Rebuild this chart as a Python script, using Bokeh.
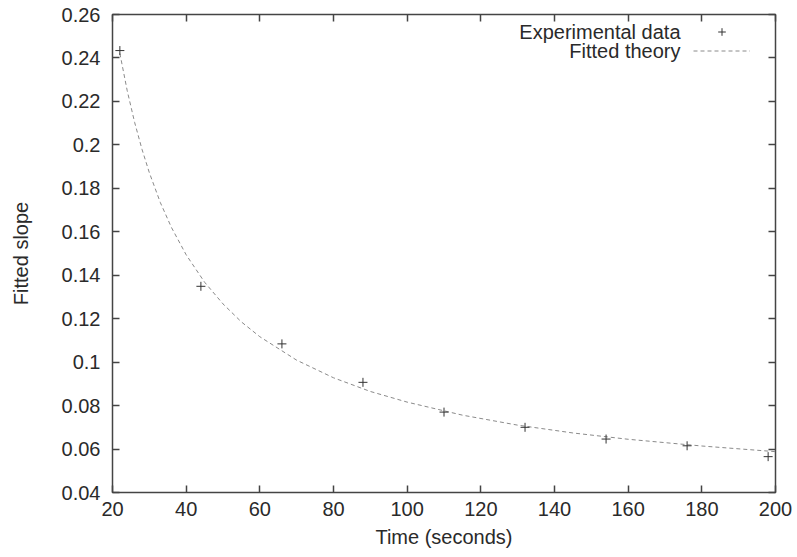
from bokeh.plotting import figure
from bokeh.models import (Range1d, FixedTicker, LinearAxis, Label, Legend, LegendItem,
                          CustomJSTickFormatter, ColumnDataSource)
from bokeh.embed import file_html
from bokeh.resources import INLINE

# Experimental data (time in seconds, fitted slope)
exp_time = [22, 44, 66, 88, 110, 132, 154, 176, 198]
exp_slope = [0.2434, 0.1349, 0.1084, 0.0907, 0.0770, 0.0700, 0.0646, 0.0615, 0.0565]

# Fitted theory curve
fit_time = [22, 24, 26, 28, 30, 33, 36, 40, 45, 50, 55, 60, 70, 80, 90, 100,
            115, 130, 145, 160, 180, 200]
fit_slope = [0.2421, 0.2249, 0.2104, 0.1980, 0.1872, 0.1734, 0.1620, 0.1494,
             0.1368, 0.1268, 0.1185, 0.1117, 0.1009, 0.0928, 0.0865, 0.0816,
             0.0756, 0.0710, 0.0674, 0.0645, 0.0614, 0.0588]

x_ticks = [20, 40, 60, 80, 100, 120, 140, 160, 180, 200]
y_ticks = [0.04, 0.06, 0.08, 0.10, 0.12, 0.14, 0.16, 0.18, 0.20, 0.22, 0.24, 0.26]

FONT = "Liberation Sans"
TXT = "#2a2a2a"
AX = "#444444"
FS = "20px"

p = figure(width=797, height=557, output_backend="svg", toolbar_location=None,
           x_range=Range1d(20, 200), y_range=Range1d(0.04, 0.26),
           min_border_left=112, min_border_right=22, min_border_top=14,
           min_border_bottom=65, x_axis_label="Time (seconds)",
           y_axis_label="Fitted slope")
p.grid.visible = False
p.outline_line_color = AX
p.outline_line_width = 1.5
p.background_fill_color = "white"
p.border_fill_color = "white"

fmt = CustomJSTickFormatter(code="return String(Number(tick.toFixed(4)));")
blank = CustomJSTickFormatter(code="return '';")

for ax in p.xaxis:
    ax.ticker = FixedTicker(ticks=x_ticks)
    ax.major_label_standoff = 9
    ax.axis_label_standoff = 7
for ax in p.yaxis:
    ax.ticker = FixedTicker(ticks=y_ticks)
    ax.formatter = fmt
    ax.major_label_standoff = 12
    ax.axis_label_standoff = 27

for ax in list(p.xaxis) + list(p.yaxis):
    ax.axis_line_color = None
    ax.major_tick_in = 7
    ax.major_tick_out = 0
    ax.major_tick_line_color = AX
    ax.major_tick_line_width = 1.5
    ax.minor_tick_line_color = None
    ax.major_label_text_font = FONT
    ax.major_label_text_font_size = FS
    ax.major_label_text_color = TXT
    ax.axis_label_text_font = FONT
    ax.axis_label_text_font_size = FS
    ax.axis_label_text_font_style = "normal"
    ax.axis_label_text_color = TXT

# mirrored ticks on top and right
top = LinearAxis(ticker=FixedTicker(ticks=x_ticks), formatter=blank,
                 axis_line_color=None, major_tick_in=7, major_tick_out=0,
                 major_tick_line_color=AX, major_tick_line_width=1.5,
                 minor_tick_line_color=None, major_label_standoff=0)
right = LinearAxis(ticker=FixedTicker(ticks=y_ticks), formatter=blank,
                   axis_line_color=None, major_tick_in=7, major_tick_out=0,
                   major_tick_line_color=AX, major_tick_line_width=1.5,
                   minor_tick_line_color=None, major_label_standoff=0)
p.add_layout(top, "above")
p.add_layout(right, "right")

fit_src = ColumnDataSource(dict(x=fit_time, y=fit_slope))
exp_src = ColumnDataSource(dict(x=exp_time, y=exp_slope))

r_fit = p.line("x", "y", source=fit_src, line_color="#8a8a8a", line_width=1,
               line_dash="4 3")
r_exp = p.scatter("x", "y", source=exp_src, marker="cross", size=9,
                  line_color="#333333", line_width=1)

legend = Legend(items=[LegendItem(label=" ", renderers=[r_exp]),
                       LegendItem(label=" ", renderers=[r_fit])],
                location=(581, 432), glyph_width=57, glyph_height=19,
                label_height=19, label_width=1, label_standoff=0,
                label_text_font_size="8px", spacing=0, padding=0, margin=0,
                border_line_color=None, background_fill_alpha=0)
p.add_layout(legend, "center")

for txt, yy in [("Experimental data", 461), ("Fitted theory", 442)]:
    p.add_layout(Label(x=568, y=yy, x_units="screen", y_units="screen", text=txt,
                       text_align="right", text_baseline="middle",
                       text_font=FONT, text_font_size=FS, text_color=TXT))

open("out.html", "w").write(file_html(p, INLINE))
